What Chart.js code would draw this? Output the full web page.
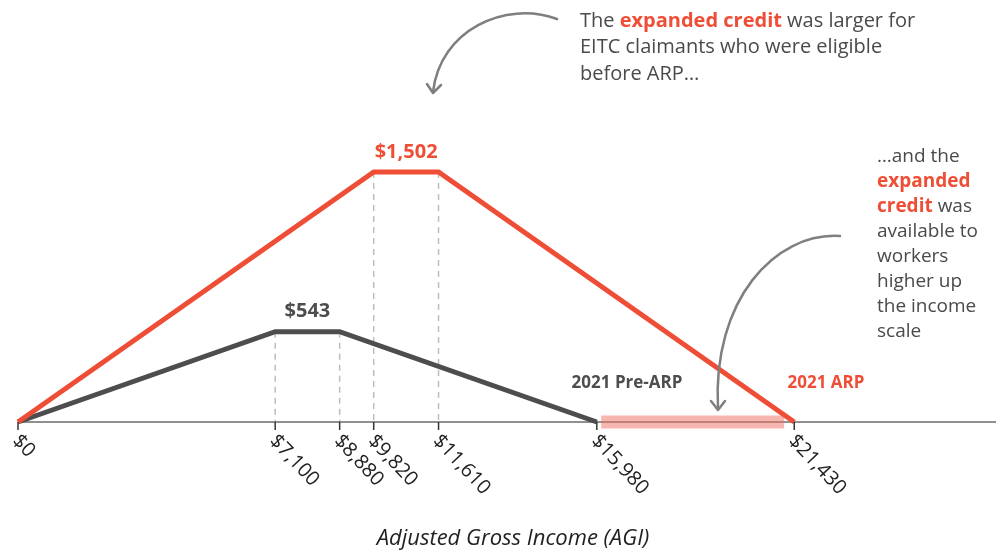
<!DOCTYPE html>
<html lang="en">
<head>
    <meta charset="UTF-8">
    <title>EITC - ARP expansion</title>
    <script src="https://cdn.jsdelivr.net/npm/chart.js"></script>
    <style>
        html, body { margin: 0; padding: 0; background: #fff; }
        #wrap { width: 996px; height: 552px; }
    </style>
</head>
<body>
    <div id="wrap"><canvas id="eitcChart"></canvas></div>

    <script>
        // income points (AGI) and credit amounts
        const arpIncome = [0, 9820, 11610, 21430];
        const arpCredit = [0, 1502, 1502, 0];
        const preIncome = [0, 7100, 8880, 15980];
        const preCredit = [0, 543, 543, 0];
        const newRange = [16100, 21150];   // pink band: newly eligible incomes
        const tickValues = [0, 7100, 8880, 9820, 11610, 15980, 21430];
        const tickLabels = ['$0', '$7,100', '$8,880', '$9,820', '$11,610', '$15,980', '$21,430'];

        const RED = '#ef4e36';
        const DARK = '#4d4d4f';
        const TEXT = '#4a4a4a';
        const FONT = '"Open Sans", Lato, sans-serif';

        const toPoints = (xs, ys) => xs.map((x, i) => ({ x: x, y: ys[i] }));

        const decorations = {
            id: 'decorations',
            beforeDatasetsDraw(chart) {
                const ctx = chart.ctx;
                const xs = chart.scales.x, ys = chart.scales.y;
                const base = ys.getPixelForValue(0);
                ctx.save();
                // dashed drop lines from the plateau corners
                ctx.strokeStyle = '#bdbdbd';
                ctx.lineWidth = 1.5;
                ctx.setLineDash([6, 5]);
                [[arpIncome[1], arpCredit[1]], [arpIncome[2], arpCredit[2]],
                 [preIncome[1], preCredit[1]], [preIncome[2], preCredit[2]]].forEach(p => {
                    const px = xs.getPixelForValue(p[0]);
                    ctx.beginPath();
                    ctx.moveTo(px, ys.getPixelForValue(p[1]));
                    ctx.lineTo(px, base);
                    ctx.stroke();
                });
                ctx.setLineDash([]);
                // axis line
                ctx.strokeStyle = '#6b6b6b';
                ctx.lineWidth = 1.5;
                ctx.beginPath();
                ctx.moveTo(chart.chartArea.left, base);
                ctx.lineTo(chart.chartArea.right, base);
                ctx.stroke();
                ctx.restore();
            },
            afterDatasetsDraw(chart) {
                const ctx = chart.ctx;
                const xs = chart.scales.x, ys = chart.scales.y;
                const base = ys.getPixelForValue(0);
                ctx.save();
                // ticks + rotated labels
                ctx.strokeStyle = '#333';
                ctx.lineWidth = 1.5;
                ctx.fillStyle = '#222';
                ctx.font = '20px ' + FONT;
                ctx.textAlign = 'left';
                ctx.textBaseline = 'top';
                tickValues.forEach((v, i) => {
                    const px = xs.getPixelForValue(v);
                    ctx.beginPath();
                    ctx.moveTo(px, base);
                    ctx.lineTo(px, base + 8);
                    ctx.stroke();
                    ctx.save();
                    ctx.translate(px + 5, base + 9);
                    ctx.rotate(Math.PI * 0.26);
                    ctx.fillText(tickLabels[i], 0, 0);
                    ctx.restore();
                });

                // axis title
                ctx.font = 'italic 22px ' + FONT;
                ctx.textAlign = 'center';
                ctx.textBaseline = 'middle';
                ctx.fillStyle = '#222';
                ctx.fillText('Adjusted Gross Income (AGI)', 513, 539);

                // peak labels
                ctx.font = 'bold 20px ' + FONT;
                ctx.fillStyle = RED;
                ctx.fillText('$1,502', (xs.getPixelForValue(arpIncome[1]) + xs.getPixelForValue(arpIncome[2])) / 2, ys.getPixelForValue(arpCredit[1]) - 20);
                ctx.fillStyle = DARK;
                ctx.fillText('$543', (xs.getPixelForValue(preIncome[1]) + xs.getPixelForValue(preIncome[2])) / 2, ys.getPixelForValue(preCredit[1]) - 20);

                // series labels
                ctx.font = 'bold 17px ' + FONT;
                ctx.fillStyle = DARK;
                ctx.fillText('2021 Pre-ARP', 627, 383);
                ctx.fillStyle = RED;
                ctx.fillText('2021 ARP', 826, 383);

                // annotation text
                function richLine(parts, x, y, size) {
                    ctx.textAlign = 'left';
                    parts.forEach(p => {
                        ctx.font = (p[1] ? 'bold ' : '') + size + 'px ' + FONT;
                        ctx.fillStyle = p[1] ? RED : TEXT;
                        ctx.fillText(p[0], x, y);
                        x += ctx.measureText(p[0]).width;
                    });
                }
                richLine([['The ', 0], ['expanded credit', 1], [' was larger for', 0]], 580, 21, 20);
                richLine([['EITC claimants who were eligible', 0]], 580, 47, 20);
                richLine([['before ARP\u2026', 0]], 580, 74, 20);

                const rightLines = [
                    [['\u2026and the', 0]],
                    [['expanded', 1]],
                    [['credit', 1], [' was', 0]],
                    [['available to', 0]],
                    [['workers', 0]],
                    [['higher up', 0]],
                    [['the income', 0]],
                    [['scale', 0]]
                ];
                rightLines.forEach((ln, i) => richLine(ln, 877, 157 + i * 24.9, 19));

                // arrows
                ctx.strokeStyle = '#7f7f7f';
                ctx.lineWidth = 2.5;
                ctx.lineCap = 'round';
                ctx.lineJoin = 'round';
                ctx.beginPath();
                ctx.moveTo(557, 19);
                ctx.bezierCurveTo(505, 0, 440, 30, 433, 92);
                ctx.stroke();
                ctx.beginPath();
                ctx.moveTo(427, 84);
                ctx.lineTo(433, 93);
                ctx.lineTo(441, 85);
                ctx.stroke();

                ctx.beginPath();
                ctx.moveTo(840, 236);
                ctx.bezierCurveTo(775, 232, 712, 300, 718, 409);
                ctx.stroke();
                ctx.beginPath();
                ctx.moveTo(711, 401);
                ctx.lineTo(718, 410);
                ctx.lineTo(725, 401);
                ctx.stroke();
                ctx.restore();
            }
        };

        new Chart(document.getElementById('eitcChart'), {
            type: 'line',
            data: {
                datasets: [
                    {
                        label: 'New eligibility',
                        data: toPoints(newRange, [0, 0]),
                        borderColor: 'rgba(240, 110, 95, 0.5)',
                        borderWidth: 13,
                        borderCapStyle: 'butt',
                        pointRadius: 0,
                        clip: false,
                        order: 3
                    },
                    {
                        label: '2021 Pre-ARP',
                        data: toPoints(preIncome, preCredit),
                        borderColor: DARK,
                        borderWidth: 5,
                        pointRadius: 0,
                        clip: false,
                        order: 2
                    },
                    {
                        label: '2021 ARP',
                        data: toPoints(arpIncome, arpCredit),
                        borderColor: RED,
                        borderWidth: 5,
                        pointRadius: 0,
                        clip: false,
                        order: 1
                    }
                ]
            },
            options: {
                responsive: true,
                maintainAspectRatio: false,
                animation: false,
                layout: { padding: { left: 18, right: 0, top: 6, bottom: 130 } },
                plugins: { legend: { display: false }, tooltip: { enabled: false } },
                scales: {
                    x: { type: 'linear', min: 0, max: 27000, display: false },
                    y: { min: 0, max: 2500, display: false }
                }
            },
            plugins: [decorations]
        });
    </script>
</body>
</html>
